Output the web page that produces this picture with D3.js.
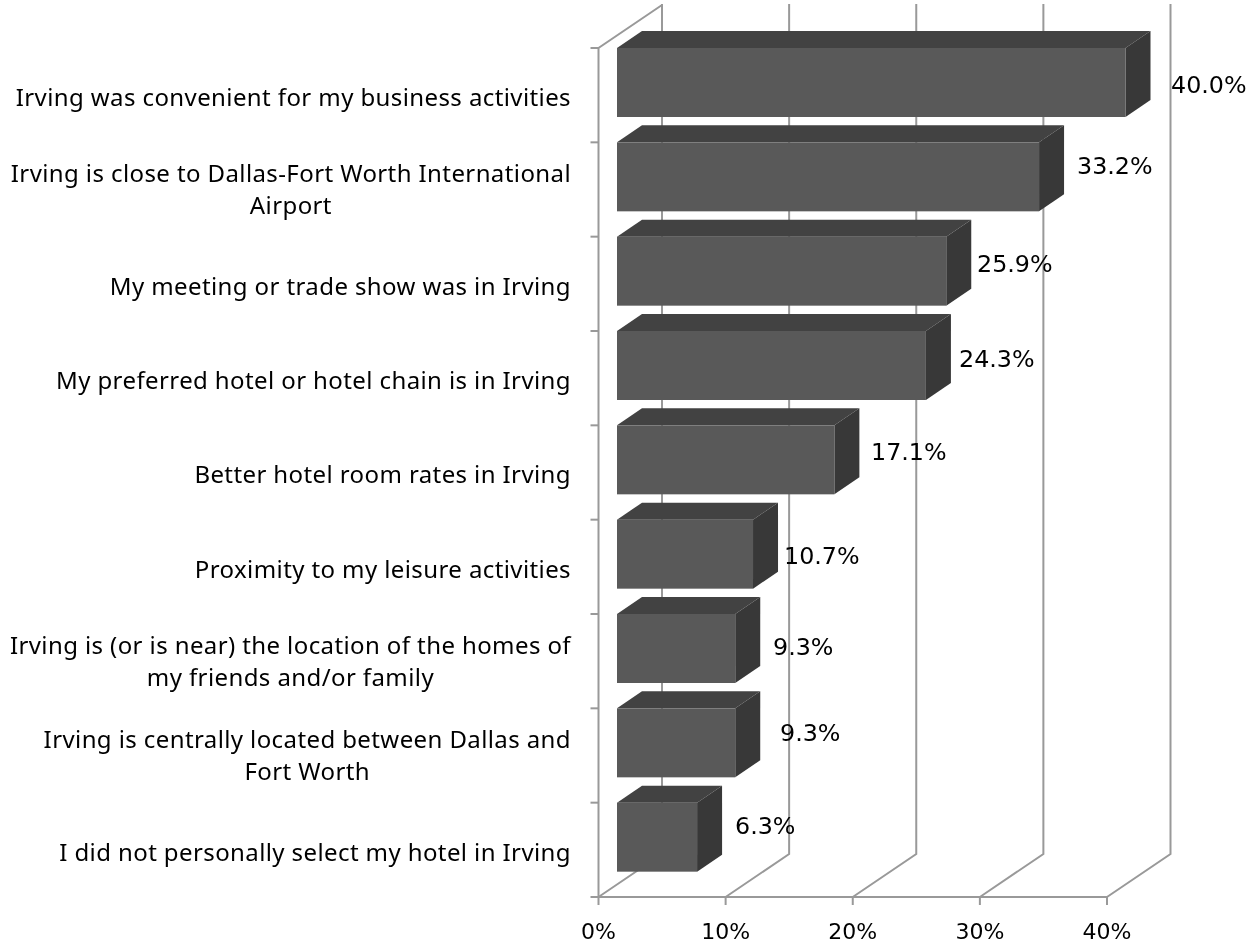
<!DOCTYPE html>
<html>
<head>
<meta charset="utf-8">
<script src="https://cdn.jsdelivr.net/npm/d3@7"></script>
<style>
	html, body { margin: 0; padding: 0; background: #fff; }
	svg { display: block; filter: blur(0.45px); }
	text { font-family: "DejaVu Sans", sans-serif; fill: #000; }
</style>
</head>
<body>
<div id="chart"></div>
<script>
// Données
const categories = [
	["Irving was convenient for my business activities"],
	["Irving is close to Dallas-Fort Worth International", "Airport"],
	["My meeting or trade show was in Irving"],
	["My preferred hotel or hotel chain is in Irving"],
	["Better hotel room rates in Irving"],
	["Proximity to my leisure activities"],
	["Irving is (or is near) the location of the homes of", "my friends and/or family"],
	["Irving is centrally located between Dallas and", "Fort Worth"],
	["I did not personally select my hotel in Irving"]
];
const values = [40.0, 33.2, 25.9, 24.3, 17.1, 10.7, 9.3, 9.3, 6.3];
const xTicks = [0, 10, 20, 30, 40];

const width = 1246, height = 945;

// profondeur du repère 3D
const depthX = 63.5, depthY = 43;
// profondeur et retrait des barres dans ce repère
const barDepthX = 25, barDepthY = 17, barInset = 18.5, barHeight = 69;

const x = d3.scaleLinear().domain([0, 40]).range([598.5, 1107]);
const y = d3.scaleBand().domain(d3.range(categories.length)).range([48, 897]);

// décalage manuel des étiquettes de valeur, comme sur l'original
const labelLeft = [1171, 1077, 977, 959, 871, 784, 773, 780, 735];
const labelBase = [93, 174, 272, 367, 460, 564, 655, 741, 834];

const svg = d3.select("#chart").append("svg")
	.attr("width", width)
	.attr("height", height);

const grid = svg.append("g")
	.style("fill", "none")
	.style("stroke", "#999")
	.style("stroke-width", 2);

// Murs et sol
xTicks.forEach(t => {
	grid.append("path").attr("d", d3.line()([
		[x(t), y.range()[1]],
		[x(t) + depthX, y.range()[1] - depthY],
		[x(t) + depthX, 4]
	]));
	grid.append("line")
		.attr("x1", x(t)).attr("x2", x(t))
		.attr("y1", y.range()[1]).attr("y2", y.range()[1] + 8);
});

// Axe vertical
grid.append("path").attr("d", d3.line()([
	[x(0) + depthX, y.range()[0] - depthY],
	[x(0), y.range()[0]],
	[x(0), y.range()[1]],
	[x(40), y.range()[1]]
]));
d3.range(categories.length + 1).forEach(i => {
	const ty = y.range()[0] + i * y.step();
	grid.append("line")
		.attr("x1", x(0) - 8).attr("x2", x(0))
		.attr("y1", ty).attr("y2", ty);
});

// Barres
const bars = svg.append("g").selectAll("g")
	.data(values)
	.enter()
	.append("g");

bars.append("path")
	.style("fill", "#424242")
	.attr("d", (d, i) => {
		const x0 = x(0) + barInset, x1 = x(d) + barInset, t = y(i);
		return d3.line()([[x0, t], [x0 + barDepthX, t - barDepthY], [x1 + barDepthX, t - barDepthY], [x1, t]]) + "Z";
	});

bars.append("path")
	.style("fill", "#383838")
	.attr("d", (d, i) => {
		const x1 = x(d) + barInset, t = y(i);
		return d3.line()([[x1, t], [x1 + barDepthX, t - barDepthY], [x1 + barDepthX, t - barDepthY + barHeight], [x1, t + barHeight]]) + "Z";
	});

bars.append("rect")
	.style("fill", "#595959")
	.attr("x", x(0) + barInset)
	.attr("y", (d, i) => y(i))
	.attr("width", d => x(d) - x(0))
	.attr("height", barHeight);

// Étiquettes de valeur
svg.append("g").selectAll("text")
	.data(values)
	.enter()
	.append("text")
	.attr("x", (d, i) => labelLeft[i])
	.attr("y", (d, i) => labelBase[i])
	.style("font-size", "23.8px")
	.text(d => d.toFixed(1) + "%");

// Libellés des catégories : bloc aligné à droite, lignes centrées entre elles
const labels = svg.append("g").selectAll("text")
	.data(categories)
	.enter()
	.append("text")
	.attr("y", (d, i) => y(i) + (d.length > 1 ? 40 : 58))
	.style("font-family", "'Noto Sans', sans-serif")
	.style("font-size", "24px")
	.style("letter-spacing", "0.4px");

labels.each(function(lines) {
	const spans = d3.select(this).selectAll("tspan")
		.data(lines)
		.enter()
		.append("tspan")
		.attr("dy", (d, j) => j ? 32 : 0)
		.style("text-anchor", "middle")
		.text(d => d);
	const firstWidth = spans.node().getComputedTextLength();
	spans.attr("x", 571 - firstWidth / 2);
});

// Axe horizontal
svg.append("g").selectAll("text")
	.data(xTicks)
	.enter()
	.append("text")
	.attr("x", d => x(d))
	.attr("y", 939)
	.style("font-size", "22px")
	.style("text-anchor", "middle")
	.text(d => d + "%");
</script>
</body>
</html>
